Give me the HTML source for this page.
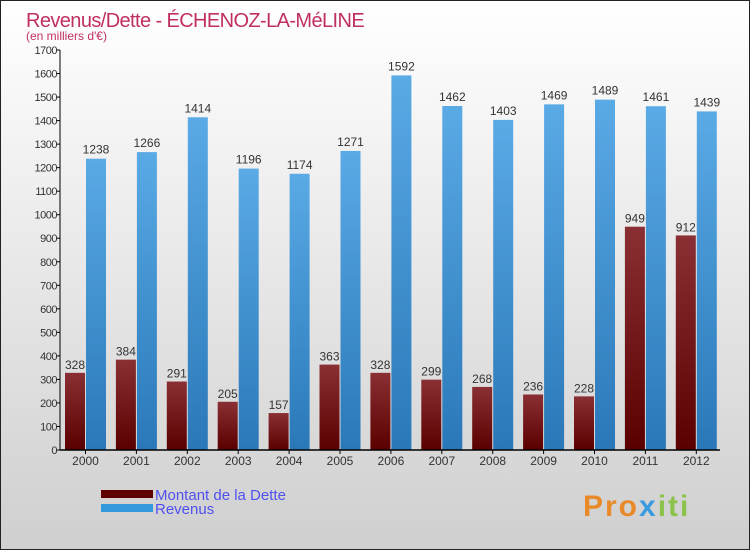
<!DOCTYPE html>
<html><head><meta charset="utf-8"><style>
body{margin:0;width:750px;height:550px;overflow:hidden;font-family:"Liberation Sans",sans-serif}
svg text{font-family:"Liberation Sans",sans-serif}
</style></head><body>
<svg width="750" height="550">
<defs>
<linearGradient id="bg" x1="0" y1="0" x2="0" y2="1"><stop offset="0" stop-color="#ffffff"/><stop offset="1" stop-color="#cfcfcf"/></linearGradient>
<linearGradient id="gd" x1="0" y1="0" x2="0" y2="1"><stop offset="0" stop-color="#8a3034"/><stop offset="1" stop-color="#5a0000"/></linearGradient>
<linearGradient id="gr" x1="0" y1="0" x2="0" y2="1"><stop offset="0" stop-color="#5aaae6"/><stop offset="1" stop-color="#2a78b8"/></linearGradient>
</defs>
<rect x="0.5" y="0.5" width="749" height="549" fill="url(#bg)" stroke="#222"/>
<text x="26" y="27" font-size="20" letter-spacing="-0.6" fill="#c0305e">Revenus/Dette - ÉCHENOZ-LA-MéLINE</text>
<text x="26" y="40" font-size="12" fill="#c0305e">(en milliers d'€)</text>
<g id="plot"></g>
<g>
<rect x="101" y="490" width="52" height="8" fill="#600000"/>
<text x="155" y="500" font-size="15" fill="#5050f0">Montant de la Dette</text>
<rect x="101" y="504" width="52" height="8" fill="#3399dd"/>
<text x="155" y="514" font-size="15" fill="#5050f0">Revenus</text>
</g>
<text x="583" y="516" font-size="30" font-weight="bold" letter-spacing="2" fill="#e88a2a">Pro<tspan fill="#3a9be0">x</tspan><tspan fill="#8bc34a">iti</tspan></text>
</svg>
<script>
const years=["2000","2001","2002","2003","2004","2005","2006","2007","2008","2009","2010","2011","2012"];
const dette=[328,384,291,205,157,363,328,299,268,236,228,949,912];
const revenus=[1238,1266,1414,1196,1174,1271,1592,1462,1403,1469,1489,1461,1439];
const yTicks=[0,100,200,300,400,500,600,700,800,900,1000,1100,1200,1300,1400,1500,1600,1700];
const NS="http://www.w3.org/2000/svg";
const g=document.getElementById('plot');
const y0=450,ymax=1700,ph=400,x0=60,step=50.9;
const y=v=>y0-v/ymax*ph;
const xg=i=>x0+5+i*step;
function mk(t,a){const e=document.createElementNS(NS,t);for(const k in a)e.setAttribute(k,a[k]);g.appendChild(e);return e;}
yTicks.forEach(v=>{
 const l=mk('line',{x1:56,x2:60,y1:y(v),y2:y(v),stroke:'#000'});
 
 
 const t=mk('text',{x:57,y:y(v)+4,'font-size':11,'text-anchor':'end',fill:'#333','letter-spacing':'-0.5'});
 t.textContent=v;
 
 
});
years.forEach((yr,i)=>{
 const xb=xg(i);
 const d=mk('rect',{x:xb,y:y(dette[i]),width:20,height:y0-y(dette[i]),fill:'url(#gd)'});
 
 
 const r=mk('rect',{x:xb+21,y:y(revenus[i]),width:20,height:y0-y(revenus[i]),fill:'url(#gr)'});
 
 
 const td=mk('text',{x:xb+10,y:y(dette[i])-4,'font-size':12,'text-anchor':'middle',fill:'#333'});
 td.textContent=dette[i];
 
 
 const tr=mk('text',{x:xb+31,y:y(revenus[i])-5,'font-size':12,'text-anchor':'middle',fill:'#333'});
 tr.textContent=revenus[i];
 
 
 const tk=mk('line',{x1:xb+20.5,x2:xb+20.5,y1:y0,y2:y0+4,stroke:'#000'});
 
 
 const tx=mk('text',{x:xb+20.5,y:465,'font-size':12,'text-anchor':'middle',fill:'#333'});
 tx.textContent=yr;
 
 
});
const ya=mk('line',{x1:x0,x2:x0,y1:y(ymax),y2:y0,stroke:'#000'});


const xa=mk('line',{x1:x0,x2:720,y1:y0,y2:y0,stroke:'#000','stroke-width':1.5});


</script>
</body></html>
